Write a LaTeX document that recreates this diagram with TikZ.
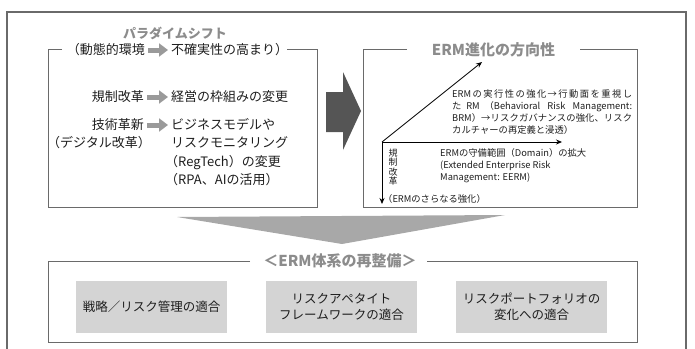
\documentclass[tikz,border=0pt]{standalone}
\usepackage{fontspec}
\setmainfont{Noto Sans CJK JP}
\XeTeXlinebreaklocale "ja"
\XeTeXlinebreakskip=0pt plus 1pt
\usetikzlibrary{arrows.meta}
\definecolor{framegray}{HTML}{6A6A6A}
\definecolor{titlegray}{HTML}{8C8C8C}
\definecolor{textblack}{HTML}{1E1E1E}
\definecolor{boxfill}{HTML}{D4D4D4}
\definecolor{bigarrow}{HTML}{555555}
\definecolor{funnelgray}{HTML}{A8A8A8}
\definecolor{arrowgray}{HTML}{9A9A9A}
\begin{document}
\begin{tikzpicture}[x=1pt,y=-1pt,
  frameline/.style={draw=framegray,line width=1.1pt},
  titletext/.style={text=titlegray,inner sep=0pt,font=\bfseries\fontsize{15pt}{17pt}\selectfont},
  lefttext/.style={text=textblack,inner sep=0pt,text height=11pt,text depth=2pt,font=\fontsize{13pt}{15pt}\selectfont},
  smalltext/.style={text=textblack,inner sep=0pt,font=\fontsize{9.3pt}{12.2pt}\selectfont},
  graybox/.style={fill=boxfill,minimum width=151pt,minimum height=52pt,align=center,text=textblack,inner sep=0pt,font=\fontsize{12.5pt}{16pt}\selectfont},
  blockarr/.style={draw=arrowgray,line width=5pt,shorten <=3pt,shorten >=3pt,-{Triangle[length=9pt,width=13pt]}},
  axisarrow/.style={draw=black,line width=0.8pt,-{Stealth[length=6pt,width=5pt]}}
]
\useasboundingbox (0,0) rectangle (695,348);
% outer frame
\draw[frameline] (7,352) -- (7,12) -- (686,12) -- (686,352);
% left box
\draw[frameline,line width=0.9pt] (62,49) -- (48,49) -- (48,207) -- (317,207) -- (317,49) -- (287,49);
\node[text=titlegray,inner sep=0pt,font=\bfseries\fontsize{13pt}{15pt}\selectfont] (ps) at (175,33) {パラダイムシフト};
\node[lefttext,anchor=east] (p1) at (145,50) {（動態的環境};
\node[lefttext,anchor=west] (q1) at (171,50) {不確実性の高まり）};
\node[lefttext,anchor=east] (p2) at (144,97) {規制改革};
\node[lefttext,anchor=west] (q2) at (171,97) {経営の枠組みの変更};
\node[lefttext,anchor=east] (p3) at (144,125) {技術革新};
\node[lefttext,anchor=west] (q3) at (171,125) {ビジネスモデルや};
\node[lefttext,anchor=east] (p4) at (151,143) {（デジタル改革）};
\node[lefttext,anchor=west] (q4) at (171,143) {リスクモニタリング};
\node[lefttext,anchor=west] (q5) at (165,162) {（RegTech）の変更};
\node[lefttext,anchor=west] (q6) at (165,180) {（RPA、AIの活用）};
\draw[blockarr] (p1.east) -- (q1.west);
\draw[blockarr] (p2.east) -- (q2.west);
\draw[blockarr] (p3.east) -- (q3.west);
% big arrow
\fill[bigarrow] (326,92) -- (343,92) -- (343,72) -- (361,111) -- (343,150) -- (343,132) -- (326,132) -- cycle;
% right box
\draw[frameline,line width=0.9pt] (407,49) -- (363,49) -- (363,207) -- (637,207) -- (637,49) -- (580,49);
\node[titletext] (rt) at (493.5,50) {ERM進化の方向性};
\coordinate (o) at (382,142);
\coordinate (dtip) at (482,62);
\coordinate (htip) at (562,142);
\coordinate (vtip) at (382,204);
\draw[axisarrow] (o) -- (dtip);
\draw[axisarrow] (o) -- (htip);
\draw[axisarrow] (o) -- (vtip);
\node[smalltext,anchor=north west,text width=180pt,align=justify] (brm) at (452,89)
  {ERMの実行性の強化→行動面を重視し\linebreak たRM（Behavioral Risk Management:\linebreak BRM）→リスクガバナンスの強化、リスク\linebreak カルチャーの再定義と浸透）};
\node[smalltext,anchor=north west,align=left] (eerm) at (440,148)
  {ERMの守備範囲（Domain）の拡大\\(Extended Enterprise Risk\\Management: EERM)};
\node[text=textblack,inner sep=0pt,align=center,anchor=north,font=\fontsize{9pt}{9.6pt}\selectfont] (kisei) at (393,148.5) {規\\制\\改\\革};
\node[smalltext,anchor=west] (sara) at (383,199) {（ERMのさらなる強化）};
% funnel
\fill[funnelgray] (177,217) -- (505,215) -- (342,244) -- cycle;
% bottom box
\draw[frameline,line width=0.9pt] (250,261) -- (48,261) -- (48,342) -- (637,342) -- (637,261) -- (427,261);
\node[titletext] (bt) at (340,261) {＜ERM体系の再整備＞};
\node[graybox] (b1) at (151.5,307) {戦略／リスク管理の適合};
\node[graybox] (b2) at (341.5,307) {リスクアペタイト\\フレームワークの適合};
\node[graybox] (b3) at (531.5,307) {リスクポートフォリオの\\変化への適合};
\end{tikzpicture}
\end{document}
